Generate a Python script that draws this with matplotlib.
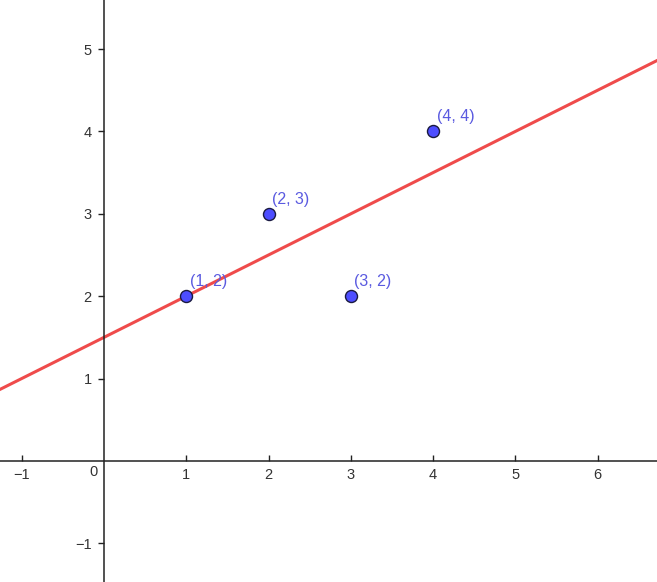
import numpy as np
import matplotlib
matplotlib.use("Agg")
import matplotlib.pyplot as plt

# data points
xs = [1, 2, 3, 4]
ys = [2, 3, 2, 4]
labels = ["(1, 2)", "(2, 3)", "(3, 2)", "(4, 4)"]

x_ticks = [-1, 1, 2, 3, 4, 5, 6]
y_ticks = [-1, 1, 2, 3, 4, 5]

XLIM = (-1.264, 6.72)
YLIM = (-1.47, 5.595)

plt.rcParams["font.family"] = ["Liberation Sans", "DejaVu Sans"]

fig = plt.figure(figsize=(6.57, 5.82), dpi=100)
ax = fig.add_axes([0, 0, 1, 1])
ax.set_xlim(*XLIM)
ax.set_ylim(*YLIM)

# axes through origin
for s in ("top", "right"):
    ax.spines[s].set_visible(False)
ax.spines["left"].set_position(("data", 0))
ax.spines["bottom"].set_position(("data", 0))
for s in ("left", "bottom"):
    ax.spines[s].set_color("#222222")
    ax.spines[s].set_linewidth(1.1)

ax.set_xticks(x_ticks)
ax.set_yticks(y_ticks)
ax.set_xticklabels(["\u2212" + str(-t) if t < 0 else str(t) for t in x_ticks])
ax.set_yticklabels(["\u2212" + str(-t) if t < 0 else str(t) for t in y_ticks])
ax.tick_params(axis="x", direction="in", length=4, width=1, color="#222222",
               labelsize=10.5, labelcolor="#333333", pad=5)
ax.tick_params(axis="y", direction="out", length=4, width=1, color="#222222",
               labelsize=10.5, labelcolor="#333333", pad=5)
ax.text(-0.08, -0.14, "0", ha="right", va="center", fontsize=10.5, color="#333333")

# regression line
m, b = np.polyfit(xs, ys, 1)
lx = np.array(XLIM)
ax.plot(lx, m * lx + b, color="#ef4b4b", lw=2.2, zorder=2)

ax.scatter(xs, ys, s=75, color="#4d4dff", edgecolor="#1a1a40", linewidth=1.0, zorder=3)
for x, y, t in zip(xs, ys, labels):
    ax.annotate(t, (x, y), xytext=(2.5, 5), textcoords="offset points",
                fontsize=11.5, color="#5a5ae0", ha="left", va="bottom")

fig.savefig("out.png", dpi=100)
